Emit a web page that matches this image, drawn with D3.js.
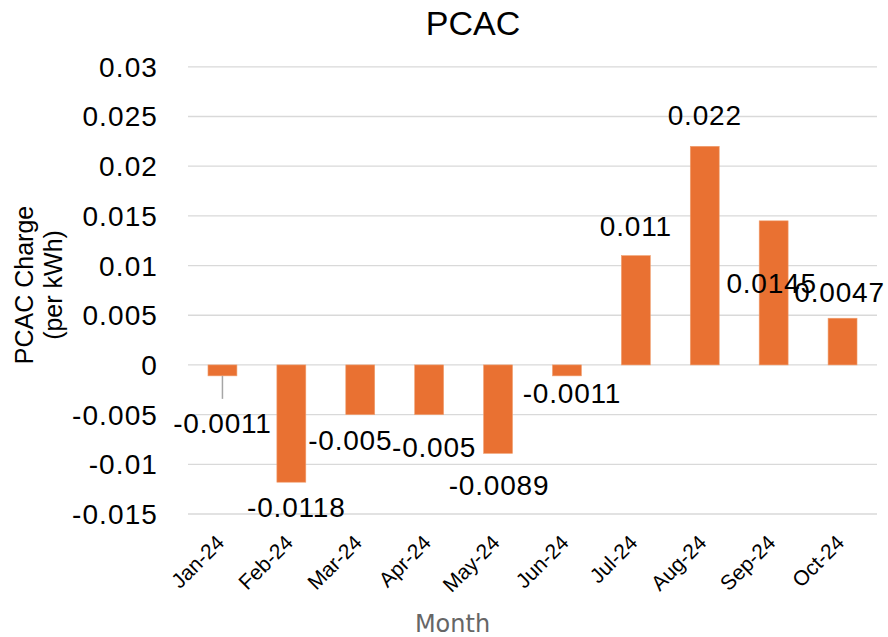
<!DOCTYPE html>
<html>
<head>
<meta charset="utf-8">
<script src="https://cdn.jsdelivr.net/npm/d3@7"></script>
<style>
  html, body { margin: 0; padding: 0; background: #fff; }
  svg { display: block; }
</style>
</head>
<body>
<svg id="chart" width="888" height="637"></svg>
<script>
// ---- Data ----
const months = ["Jan-24","Feb-24","Mar-24","Apr-24","May-24","Jun-24","Jul-24","Aug-24","Sep-24","Oct-24"];
const values = [-0.0011, -0.0118, -0.005, -0.005, -0.0089, -0.0011, 0.011, 0.022, 0.0145, 0.0047];
const valueLabels = ["-0.0011","-0.0118","-0.005","-0.005","-0.0089","-0.0011","0.011","0.022","0.0145","0.0047"];
const yTicks = [0.03, 0.025, 0.02, 0.015, 0.01, 0.005, 0, -0.005, -0.01, -0.015];
const yTickLabels = ["0.03","0.025","0.02","0.015","0.01","0.005","0","-0.005","-0.01","-0.015"];

// label nudges (layout, in px, relative to bar end)
const labelDx = [0, 5, -10, 5, 1, 5, 0, 0, -2, -3];
const labelDy = [57, 35, 35, 42, 42, 27, -20, -21, 72, -16];

// ---- Layout ----
const svg = d3.select("#chart");
const plot = { left: 188, right: 877, top: 66.8, bottom: 514 };

const x = d3.scaleBand().domain(months).range([plot.left, plot.right]).paddingInner(0.58).paddingOuter(0.29);
const y = d3.scaleLinear().domain([-0.015, 0.03]).range([plot.bottom, plot.top]);

const font = "'Liberation Sans', Arial, Helvetica, sans-serif";

// gridlines
svg.append("g").selectAll("line").data(yTicks).join("line")
  .attr("x1", plot.left).attr("x2", plot.right)
  .attr("y1", d => y(d)).attr("y2", d => y(d))
  .attr("stroke", "#d9d9d9").attr("stroke-width", 1.3);

// y tick labels
svg.append("g").selectAll("text").data(yTicks).join("text")
  .attr("x", 158).attr("y", d => y(d) + 10)
  .attr("text-anchor", "end")
  .attr("font-family", font).attr("font-size", 28).attr("letter-spacing", 1.1)
  .attr("fill", "#000")
  .text((d, i) => yTickLabels[i]);

// bars
const bars = months.map((m, i) => ({ m, v: values[i], label: valueLabels[i], dx: labelDx[i], dy: labelDy[i] }));
svg.append("g").selectAll("rect").data(bars).join("rect")
  .attr("x", d => x(d.m))
  .attr("width", x.bandwidth())
  .attr("y", d => Math.min(y(d.v), y(0)))
  .attr("height", d => Math.abs(y(d.v) - y(0)))
  .attr("fill", "#e97132")
  .attr("stroke", "#f0a070").attr("stroke-width", 0.6);

// leader line for Jan label
svg.append("line")
  .attr("x1", x(months[0]) + x.bandwidth() / 2).attr("x2", x(months[0]) + x.bandwidth() / 2)
  .attr("y1", y(values[0])).attr("y2", y(values[0]) + 23)
  .attr("stroke", "#a6a6a6").attr("stroke-width", 1.5);

// value labels
svg.append("g").selectAll("text").data(bars).join("text")
  .attr("x", d => x(d.m) + x.bandwidth() / 2 + d.dx)
  .attr("y", d => y(d.v) + d.dy)
  .attr("text-anchor", "middle")
  .attr("font-family", font).attr("font-size", 28).attr("letter-spacing", 0.8)
  .attr("fill", "#000")
  .text(d => d.label);

// x tick labels (rotated)
svg.append("g").selectAll("text").data(months).join("text")
  .attr("transform", d => `translate(${x(d) + x.bandwidth() / 2 + 3},544) rotate(-45)`)
  .attr("text-anchor", "end")
  .attr("font-family", font).attr("font-size", 21)
  .attr("fill", "#000")
  .text(d => d);

// title
svg.append("text")
  .attr("x", 473).attr("y", 35)
  .attr("text-anchor", "middle")
  .attr("font-family", font).attr("font-size", 34)
  .attr("fill", "#000")
  .text("PCAC");

// y axis title (two lines)
const yt = svg.append("text")
  .attr("transform", "translate(33,285) rotate(-90)")
  .attr("text-anchor", "middle")
  .attr("font-family", font).attr("font-size", 25)
  .attr("fill", "#000");
yt.append("tspan").attr("x", 0).attr("dy", 0).text("PCAC Charge");
yt.append("tspan").attr("x", 0).attr("dy", 29).text("(per kWh)");

// x axis title
svg.append("text")
  .attr("x", 452.5).attr("y", 632)
  .attr("text-anchor", "middle")
  .attr("font-family", "'DejaVu Sans', Verdana, sans-serif").attr("font-size", 24)
  .attr("fill", "#666")
  .text("Month");
</script>
</body>
</html>
